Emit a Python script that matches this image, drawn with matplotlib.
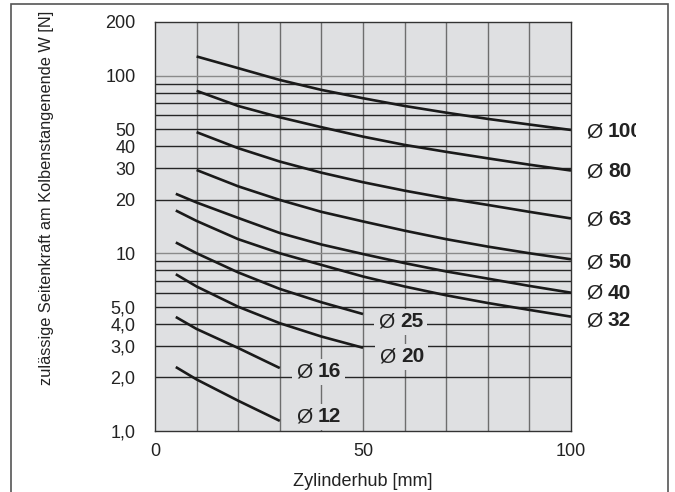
import matplotlib
matplotlib.use("Agg")
import matplotlib.pyplot as plt
from matplotlib.transforms import offset_copy, Bbox, TransformedBbox
from matplotlib.patches import Rectangle

plt.rcParams['font.family'] = ['Liberation Sans', 'DejaVu Sans']

# ---- data ----
x_large = [10, 20, 30, 40, 50, 60, 70, 80, 90, 100]
d100 = [128, 110, 94.4, 83, 74.5, 67.4, 61.8, 57, 53, 49.4]
d80 = [82, 67.4, 58.2, 51.2, 45.3, 40.7, 37.2, 34.2, 31.5, 29.2]
d63 = [48, 39, 32.8, 28.4, 25.1, 22.5, 20.4, 18.7, 17.1, 15.7]
d50 = [29.4, 23.8, 19.95, 17.1, 15.1, 13.4, 12.0, 10.9, 10.0, 9.25]
x_mid = [5, 10, 20, 30, 40, 50, 60, 70, 80, 90, 100]
d40 = [21.6, 19.3, 15.8, 13.0, 11.2, 9.9, 8.8, 7.9, 7.2, 6.55, 6.0]
d32 = [17.4, 15.2, 12.0, 10.0, 8.6, 7.4, 6.5, 5.8, 5.25, 4.8, 4.4]
x_small = [5, 10, 20, 30, 40, 50]
d25 = [11.5, 10.0, 7.8, 6.3, 5.3, 4.55]
d20 = [7.62, 6.5, 5.0, 4.04, 3.4, 2.94]
x_tiny = [5, 10, 20, 30]
d16 = [4.38, 3.75, 2.93, 2.26]
d12 = [2.29, 1.95, 1.48, 1.14]

series = [
    (x_large, d100, "100", 103.6, 48.2),
    (x_large, d80, "80", 103.6, 28.8),
    (x_large, d63, "63", 103.6, 15.4),
    (x_large, d50, "50", 103.6, 8.85),
    (x_mid, d40, "40", 103.6, 5.96),
    (x_mid, d32, "32", 103.6, 4.16),
    (x_small, d25, "25", 53.6, 4.12),
    (x_small, d20, "20", 53.8, 2.61),
    (x_tiny, d16, "16", 33.9, 2.16),
    (x_tiny, d12, "12", 33.9, 1.20),
]

y_major = [1, 2, 3, 4, 5, 10, 20, 30, 40, 50, 100, 200]
y_major_labels = ["1,0", "2,0", "3,0", "4,0", "5,0", "10", "20", "30", "40", "50", "100", "200"]
y_minor = [6, 7, 8, 9, 60, 70, 80, 90]
x_ticks = [0, 50, 100]
x_grid = list(range(10, 100, 10))

W, H = 675, 492
fig = plt.figure(figsize=(W / 100, H / 100), dpi=100)
ax = fig.add_axes([155 / W, 1 - 431 / H, (571 - 155) / W, (431 - 22) / H])
ax.set_facecolor("#dfe0e2")
ax.set_yscale("log")
ax.set_xlim(0, 100)
ax.set_ylim(1, 200)

# grid lines
for xv in x_grid:
    ax.axvline(xv, color="#6e6e6e", lw=1.0, zorder=1)
for yv in y_major + y_minor:
    if yv in (1, 200):
        continue
    col = "#8a8a8a" if yv in (10, 100) else "#262626"
    ax.axhline(yv, color=col, lw=1.0, zorder=1)

for sp in ax.spines.values():
    sp.set_color("#333333")
    sp.set_linewidth(1.0)

ax.set_yticks(y_major)
ax.set_yticklabels(y_major_labels)
ax.set_yticks(y_minor, minor=True)
ax.tick_params(axis="y", which="minor", length=0, labelleft=False)
ax.set_xticks(x_ticks)
ax.set_xticklabels([str(v) for v in x_ticks])
ax.tick_params(axis="both", which="major", length=0, labelsize=13, colors="#222222")
ax.tick_params(axis="y", pad=14)
ax.tick_params(axis="x", pad=9)

clip = TransformedBbox(Bbox.from_extents(0, 0, 636 / W, 1), fig.transFigure)

for xs, ys, lab, lx, ly in series:
    ax.plot(xs, ys, color="#1a1a1a", lw=1.9, zorder=3, solid_capstyle="butt",
            solid_joinstyle="round")
    inside = lx < 100
    bb = dict(facecolor="#dfe0e2", edgecolor="none", pad=2.5) if inside else None
    t1 = ax.text(lx, ly, "Ø", fontsize=15, ha="left", va="center", color="#222222",
                 clip_on=False, zorder=4, bbox=bb)
    tr = offset_copy(ax.transData, fig=fig, x=22 / 100, y=0, units="inches")
    t2 = ax.text(lx, ly, lab, fontsize=15, fontweight="bold", ha="left", va="center",
                 color="#222222", transform=tr, clip_on=False, zorder=4, bbox=bb)
    if not inside:
        for t in (t1, t2):
            t.set_clip_on(True)
            t.set_clip_box(clip)

fig.text(363 / W, 1 - 481 / H, "Zylinderhub [mm]", ha="center", va="center",
         fontsize=13, color="#222222")
fig.text(47 / W, 1 - 198 / H, "zulässige Seitenkraft am Kolbenstangenende W [N]",
         rotation=90, ha="center", va="center", fontsize=11.8, color="#222222")

# outer frame
fig.patches.append(Rectangle((11 / W, -0.05), (668 - 11) / W, 1 - 4 / H + 0.05,
                             transform=fig.transFigure, fill=False,
                             edgecolor="#555555", lw=1.2))

fig.savefig("out.png", dpi=100)
